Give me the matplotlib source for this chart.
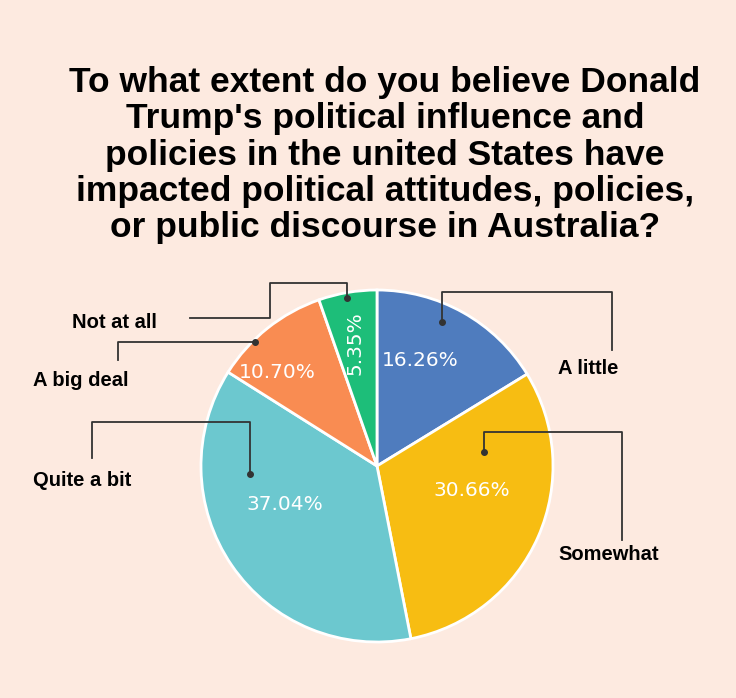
import matplotlib
matplotlib.use("Agg")
import matplotlib.pyplot as plt

labels = ["A little", "Somewhat", "Quite a bit", "A big deal", "Not at all"]
values = [16.26, 30.66, 37.04, 10.70, 5.35]
colors = ["#4F7CBE", "#F7BD12", "#6CC8CF", "#F98C52", "#1DBE79"]
title = ("To what extent do you believe Donald\nTrump's political influence and\n"
         "policies in the united States have\nimpacted political attitudes, policies,\n"
         "or public discourse in Australia?")

bg = "#FDEAE0"
W, H = 736, 698
fig = plt.figure(figsize=(W/100, H/100), dpi=100, facecolor=bg)

cx, cy, r = 377, 466, 176
ax = fig.add_axes([(cx-r)/W, (H-cy-r)/H, 2*r/W, 2*r/H])
ax.pie(values, colors=colors, startangle=90, counterclock=False,
       wedgeprops=dict(linewidth=2, edgecolor="white"))
ax.set_xlim(-1, 1)
ax.set_ylim(-1, 1)

# overlay in pixel coords for title, leaders and labels
ov = fig.add_axes([0, 0, 1, 1])
ov.set_xlim(0, W)
ov.set_ylim(H, 0)
ov.axis("off")
ov.patch.set_alpha(0)

tfont = ["Liberation Sans", "DejaVu Sans"]
ov.text(385, 155, title, ha="center", va="center", fontsize=25.5, fontweight="bold",
        family=tfont, linespacing=1.12)

pct_pos = [(420, 360, 0), (472, 490, 0), (285, 505, 0), (277, 373, 0), (355, 343, 90)]
for (x, y, rot), v in zip(pct_pos, values):
    ov.text(x, y, f"{v:.2f}%", ha="center", va="center", color="white",
            fontsize=14.5, rotation=rot, family=["DejaVu Sans"])

leaders = [
    [(442, 322), (442, 292), (612, 292), (612, 350)],
    [(484, 452), (484, 432), (622, 432), (622, 540)],
    [(250, 474), (250, 422), (92, 422), (92, 458)],
    [(255, 342), (118, 342), (118, 360)],
    [(347, 298), (347, 283), (270, 283), (270, 318), (190, 318)],
]
for pts in leaders:
    xs, ys = zip(*pts)
    ov.plot(xs, ys, color="#333333", lw=1.3)
    ov.plot(xs[0], ys[0], "o", color="#333333", ms=4)

lab_pos = [(558, 369, "left"), (558, 555, "left"), (33, 480, "left"),
           (33, 381, "left"), (72, 323, "left")]
for (x, y, ha), t in zip(lab_pos, labels):
    ov.text(x, y, t, ha=ha, va="center", fontsize=14.5, fontweight="bold",
            family=tfont)

fig.savefig("out.png", dpi=100, facecolor=bg)
